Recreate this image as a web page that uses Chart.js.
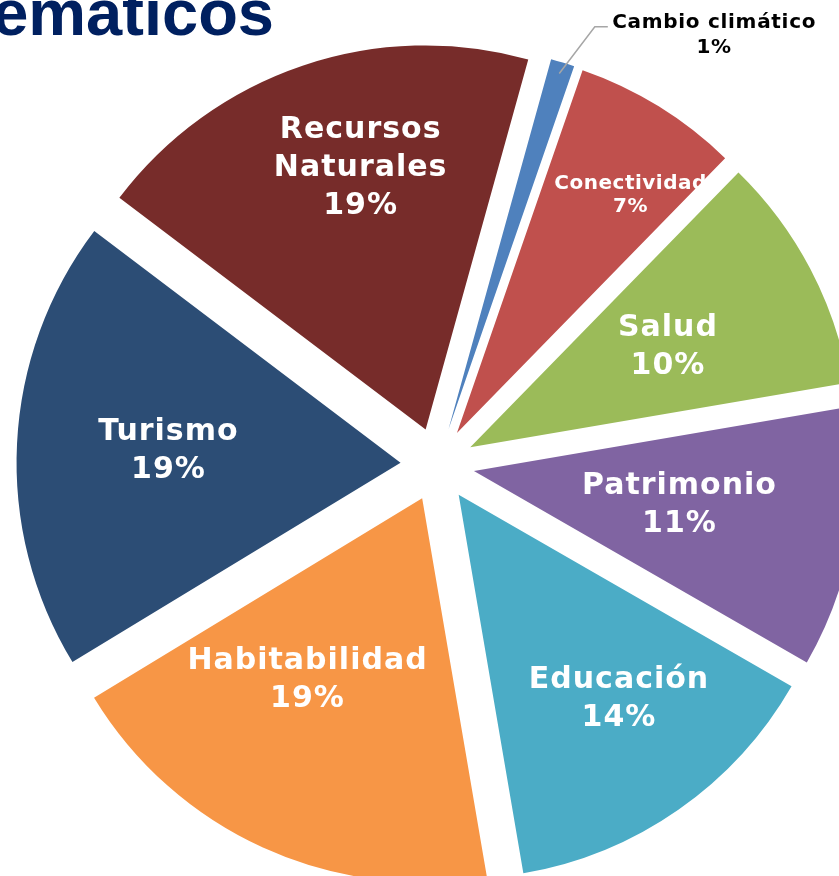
<!DOCTYPE html>
<html lang="es">
<head>
<meta charset="utf-8">
<title>Ejes temáticos</title>
<script src="https://cdn.jsdelivr.net/npm/chart.js@4.4.1/dist/chart.umd.min.js"></script>
<style>
  html, body { margin: 0; padding: 0; background: #ffffff; overflow: hidden; }
  #lienzo { position: relative; width: 839px; height: 876px; overflow: hidden; }
  #graficoTorta { position: absolute; left: 0; top: 0; }
  #titulo {
    position: absolute; right: 565px; top: -20px;
    font: bold 65px "Liberation Sans", Arial, sans-serif; line-height: 65px;
    color: #002060; white-space: nowrap;
  }
</style>
</head>
<body>
<div id="lienzo">
  <canvas id="graficoTorta" width="839" height="876"></canvas>
  <div id="titulo">Ejes temáticos</div>
</div>
<script>
// Datos del gráfico
const categorias = ['Cambio climático', 'Conectividad', 'Salud', 'Patrimonio', 'Educación', 'Habitabilidad', 'Turismo', ['Recursos', 'Naturales']];
const valores = [1, 7, 10, 11, 14, 19, 19, 19];
const colores = ['#4F81BD', '#C0504D', '#9BBB59', '#8064A2', '#4BACC6', '#F79646', '#2C4D75', '#772C2A'];

// Separación de cada porción (px) y ubicación de las etiquetas: [fracción del radio, giro en grados]
const EXPLOSION = 37;
const ubicacionEtiquetas = [[1.242, 16.5], [0.77, 4.2], [0.58, 0], [0.54, -1.5], [0.67, -3.5], [0.555, 8.2], [0.607, 0.7], [0.71, 4.8]];
const grande = { size: 30, spacing: 1, lh: 38, color: '#ffffff' };
const estiloEtiquetas = [
  { size: 20, spacing: 0.7, lh: 25, color: '#000000', guia: true },
  { size: 20, spacing: 0.5, lh: 23, color: '#ffffff' },
  grande, grande, grande, grande, grande, grande
];

const total = valores.reduce((a, b) => a + b, 0);

const pluginTorta = {
  id: 'tortaExplotada',
  // Dibuja cada porción desplazada hacia afuera por su bisectriz
  beforeDatasetDraw(chart) {
    const ctx = chart.ctx;
    chart.getDatasetMeta(0).data.forEach((arc) => {
      const medio = (arc.startAngle + arc.endAngle) / 2;
      ctx.save();
      ctx.translate(Math.cos(medio) * EXPLOSION, Math.sin(medio) * EXPLOSION);
      arc.draw(ctx);
      ctx.restore();
    });
    return false;
  },
  // Etiquetas con nombre y porcentaje
  afterDatasetsDraw(chart) {
    const ctx = chart.ctx;
    chart.getDatasetMeta(0).data.forEach((arc, i) => {
      const medio = (arc.startAngle + arc.endAngle) / 2;
      const cx = arc.x + Math.cos(medio) * EXPLOSION;
      const cy = arc.y + Math.sin(medio) * EXPLOSION;
      const [frac, giro] = ubicacionEtiquetas[i];
      const ang = medio + giro * Math.PI / 180;
      const px = cx + Math.cos(ang) * frac * arc.outerRadius;
      const py = cy + Math.sin(ang) * frac * arc.outerRadius;
      const est = estiloEtiquetas[i];
      const lineas = [].concat(categorias[i], Math.round(valores[i] / total * 100) + '%');

      ctx.save();
      ctx.font = `bold ${est.size}px "DejaVu Sans", Verdana, sans-serif`;
      ctx.letterSpacing = est.spacing + 'px';
      ctx.fillStyle = est.color;
      ctx.textAlign = 'center';
      ctx.textBaseline = 'alphabetic';
      const cap = est.size * 0.73;
      const arriba = py - ((lineas.length - 1) * est.lh + cap) / 2;
      lineas.forEach((l, k) => ctx.fillText(l, px + est.spacing / 2, arriba + cap + k * est.lh));

      if (est.guia) {
        const ancho = ctx.measureText(lineas[0]).width;
        const izq = px - ancho / 2;
        const r0 = arc.outerRadius * 0.97;
        ctx.beginPath();
        ctx.moveTo(cx + Math.cos(medio) * r0, cy + Math.sin(medio) * r0);
        ctx.lineTo(izq - 17, py - 6);
        ctx.lineTo(izq - 4, py - 6);
        ctx.strokeStyle = '#A6A6A6';
        ctx.lineWidth = 1.5;
        ctx.stroke();
      }
      ctx.restore();
    });
  }
};

new Chart(document.getElementById('graficoTorta').getContext('2d'), {
  type: 'pie',
  data: {
    labels: categorias,
    datasets: [{
      data: valores,
      backgroundColor: colores,
      borderWidth: 0
    }]
  },
  options: {
    responsive: false,
    animation: false,
    rotation: 15.5,
    radius: 384,
    layout: { padding: { left: 36, top: 53, right: 0, bottom: 0 } },
    plugins: {
      legend: { display: false },
      tooltip: { enabled: false }
    }
  },
  plugins: [pluginTorta]
});
</script>
</body>
</html>
